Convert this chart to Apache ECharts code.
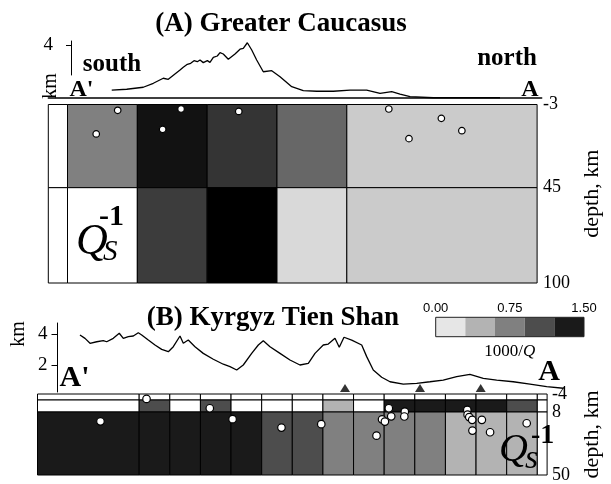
<!DOCTYPE html>
<html><head><meta charset="utf-8">
<script src="https://cdn.jsdelivr.net/npm/echarts@6/dist/echarts.min.js"></script>
<style>html,body{margin:0;padding:0;background:#fff}#c{width:611px;height:484px}</style>
</head><body><div id="c"></div>
<script>
// ---------- Panel A: Greater Caucasus ----------
const aColEdges = [0, 22, 102, 182, 262, 342, 560];          // distance, km
const aDepthEdges = [-3, 45, 100];                           // depth, km
const aQ = [                                                 // relative Q^-1 per cell (null = no data)
  [null, 1.0, 1.86, 1.59, 1.19, 0.41],
  [null, 0.0, 1.53, 2.0, 0.30, 0.41]
];
const aDepthTicks = [-3, 45, 100];
const aDistTicks = [80, 180, 280, 380, 480];
const aTopoDist = [72.0, 89.0, 107.8, 119.2, 130.5, 136.2, 149.5, 153.2, 157.8, 161.6, 165.4, 169.1, 172.2, 175.9, 180.5, 183.5, 187.3, 191.8, 194.9, 198.6, 204.3, 211.9, 217.6, 221.3, 225.9, 230.9, 236.5, 244.0, 253.6, 263.0, 276.3, 289.4, 304.7, 323.5, 342.5, 361.4, 376.5, 389.8, 399.2, 410.6, 437.0, 474.9, 512.7];
const aTopoElev = [0.60, 0.66, 0.81, 1.11, 1.49, 1.41, 2.11, 2.32, 2.54, 2.62, 2.82, 2.74, 2.87, 2.67, 2.82, 2.69, 3.07, 3.17, 3.42, 3.32, 2.92, 3.32, 3.68, 3.75, 4.17, 3.62, 2.87, 1.98, 2.06, 1.61, 0.85, 0.55, 0.51, 0.51, 0.60, 0.60, 0.35, 0.48, 0.30, 0.10, 0.02, 0.02, 0.02];
const aQuakeDist = [79.5, 54.9, 152.1, 131.0, 218.2, 390.1, 450.3, 473.8, 413.2];
const aQuakeDepth = [0.35, 14.0, -0.4, 11.3, 1.0, -0.4, 5.0, 12.1, 16.7];
const aElevTicks = [4];

// ---------- Panel B: Kyrgyz Tien Shan ----------
const bColEdges = [0, 166, 216, 266, 316, 366, 416, 466, 516, 566, 616, 666, 716, 766, 816, 832];
const bDepthEdges = [-4, 0, 8, 50];
const bQ = [                                                 // 1000/Q per cell (null = no data)
  [null, null, null, null, null, null, null, null, null, null, null, null, null, null, null],
  [null, 1.05, null, 1.05, null, null, null, 0.45, null, 1.35, 1.35, 1.35, 1.35, 1.05, null],
  [1.35, 1.35, 1.35, 1.35, 1.35, 1.05, 1.05, 0.75, 0.75, 0.75, 0.75, 0.45, 0.45, 0.45, null]
];
const bDepthTicks = [-4, 8, 50];
const bTopoDist = [67.2, 75.2, 83.1, 93.7, 104.1, 109.5, 119.9, 129.4, 135.8, 143.7, 151.6, 159.5, 164.9, 175.3, 185.9, 196.5, 207.0, 214.9, 225.5, 230.7, 238.6, 249.2, 262.3, 278.2, 294.0, 304.6, 315.2, 325.6, 338.9, 349.4, 357.3, 367.9, 383.7, 399.5, 415.3, 428.5, 439.1, 452.2, 460.1, 470.7, 477.5, 485.0, 497.2, 513.0, 520.9, 531.3, 544.6, 557.8, 578.8, 600.0, 621.0, 642.0, 663.3, 684.3, 705.4, 726.6, 752.8, 779.3, 805.7, 832.0];
const bTopoElev = [3.94, 3.72, 3.40, 3.50, 3.57, 3.50, 3.72, 4.05, 3.72, 3.83, 3.87, 4.08, 3.94, 3.61, 3.29, 3.01, 2.86, 3.18, 3.87, 3.40, 3.61, 3.18, 2.75, 2.37, 2.05, 1.89, 1.68, 2.00, 2.75, 3.29, 3.57, 3.18, 2.75, 2.32, 2.00, 2.11, 2.75, 3.29, 3.35, 3.72, 3.14, 3.79, 3.61, 3.29, 2.54, 1.68, 1.21, 0.92, 0.77, 0.82, 0.92, 1.03, 1.25, 1.40, 1.14, 1.03, 0.92, 0.77, 0.60, 0.50];
const bStationDist = [486.6, 605.2, 701.3];
const bStationElev = [0.52, 0.52, 0.52];
const bQuakeDist = [178, 102.8, 281.3, 318.5, 398.3, 463.3, 573.6, 599.7, 598.9, 577.5, 562.5, 567.2, 553.5, 701.7, 702.2, 704.9, 709.7, 725.5, 710.1, 738.9, 798.7];
const bQuakeDepth = [-0.7, 14.2, 5.5, 12.8, 18.4, 16.1, 5.5, 7.8, 11.0, 10.9, 12.9, 14.4, 23.8, 6.6, 9.8, 11.4, 13.2, 13.2, 20.4, 21.5, 15.5];
const bElevTicks = [2, 4];

// ---------- Colour scale (1000/Q) ----------
const cbEdges = [0, 0.3, 0.6, 0.9, 1.2, 1.5];
const cbColors = ['#e6e6e6', '#b3b3b3', '#808080', '#4d4d4d', '#1a1a1a'];
const cbTicks = [0, 0.75, 1.5];

// ---------- helpers ----------
const SERIF = '"Liberation Serif", "Times New Roman", serif';
const SANS = '"Liberation Sans", Arial, sans-serif';

function grayA(v) {
  if (v < 0) return '#ffffff';
  const g = Math.max(0, Math.min(255, Math.round(255 * (1 - v / 2))));
  return 'rgb(' + g + ',' + g + ',' + g + ')';
}
function classB(v) {
  if (v < 0) return '#ffffff';
  for (let i = 0; i < cbColors.length; i++) {
    if (v < cbEdges[i + 1]) return cbColors[i];
  }
  return cbColors[cbColors.length - 1];
}
function cells(colEdges, depthEdges, vals) {
  const out = [];
  for (let r = 0; r < vals.length; r++) {
    for (let c = 0; c < vals[r].length; c++) {
      const v = vals[r][c];
      out.push([colEdges[c], colEdges[c + 1], depthEdges[r], depthEdges[r + 1], v == null ? -1 : v]);
    }
  }
  return out;
}
function cellRenderer(colorFn, stroke) {
  return function (params, api) {
    const p0 = api.coord([api.value(0), api.value(2)]);
    const p1 = api.coord([api.value(1), api.value(3)]);
    return {
      type: 'rect',
      shape: { x: p0[0], y: Math.min(p0[1], p1[1]), width: p1[0] - p0[0], height: Math.abs(p1[1] - p0[1]) },
      style: { fill: colorFn(api.value(4)), stroke: stroke ? '#000' : null, lineWidth: 1 }
    };
  };
}
function zip(a, b) { return a.map((v, i) => [v, b[i]]); }

const cbData = cbColors.map((c, i) => [cbEdges[i], cbEdges[i + 1], 0, 1, (cbEdges[i] + cbEdges[i + 1]) / 2]);

function txt(x, y, text, font, align, extra) {
  return Object.assign({
    type: 'text', x: x, y: y, z: 100,
    style: { text: text, font: font, fill: '#000', align: align || 'center', textAlign: align || 'center', verticalAlign: 'middle', textVerticalAlign: 'middle' }
  }, extra || {});
}

const hidden = { show: false };
const noSplit = { show: false };

const option = {
  animation: false,
  backgroundColor: '#fff',
  grid: [
    { left: 48.3, width: 493.4, top: 45, height: 53 },          // 0 topo A
    { left: 48.3, width: 493.4, top: 104.5, height: 178.5 },    // 1 section A
    { left: 71, width: 1, top: 41, height: 34 },                // 2 km axis A
    { left: 37.5, width: 525.8, top: 334, height: 62 },         // 3 topo B
    { left: 37.5, width: 525.8, top: 394, height: 84 },         // 4 section B
    { left: 57.5, width: 1, top: 323, height: 69 },             // 5 km axis B
    { left: 435.7, width: 148.3, top: 317.3, height: 19.4, show: true, borderColor: '#222', borderWidth: 1, z: 10 } // 6 colour bar
  ],
  xAxis: [
    { gridIndex: 0, type: 'value', min: 0, max: 560, axisLine: { show: true, onZero: false, lineStyle: { color: '#000', width: 1.5 } }, axisTick: hidden, axisLabel: hidden, splitLine: noSplit },
    { gridIndex: 1, type: 'value', min: 0, max: 560, position: 'bottom', axisLine: hidden, axisTick: { show: true, inside: true, length: 4, customValues: aDistTicks, lineStyle: { color: '#000' } }, axisLabel: hidden, splitLine: noSplit },
    { gridIndex: 1, type: 'value', min: 0, max: 560, position: 'top', axisLine: hidden, axisTick: { show: true, inside: true, length: 4, customValues: aDistTicks, lineStyle: { color: '#000' } }, axisLabel: hidden, splitLine: noSplit },
    { gridIndex: 2, type: 'value', min: 0, max: 1, show: false },
    { gridIndex: 3, type: 'value', min: 0, max: 832, show: false },
    { gridIndex: 4, type: 'value', min: 0, max: 832, show: false },
    { gridIndex: 5, type: 'value', min: 0, max: 1, show: false },
    { gridIndex: 6, type: 'value', min: 0, max: 1.5, position: 'top', axisLine: hidden, axisTick: hidden, splitLine: noSplit,
      axisLabel: { customValues: cbTicks, formatter: v => Number(v).toFixed(2), margin: 2, fontFamily: SANS, fontSize: 13, color: '#000' } },
    { gridIndex: 6, type: 'value', min: 0, max: 1.5, position: 'bottom', axisLine: hidden, axisTick: hidden, axisLabel: hidden, splitLine: noSplit,
      name: '{a|1000/}{b|Q}', nameLocation: 'middle', nameGap: 6,
      nameTextStyle: { rich: { a: { fontFamily: SERIF, fontSize: 17, color: '#000' }, b: { fontFamily: SERIF, fontStyle: 'italic', fontSize: 17, color: '#000' } } } }
  ],
  yAxis: [
    { gridIndex: 0, type: 'value', min: 0, max: 4, show: false },
    { gridIndex: 1, type: 'value', min: -3, max: 100, inverse: true, position: 'right', axisLine: hidden, axisTick: hidden, splitLine: noSplit,
      axisLabel: { customValues: aDepthTicks, margin: 6, fontFamily: SERIF, fontSize: 18, color: '#000' },
      name: 'depth, km', nameLocation: 'middle', nameRotate: 90, nameGap: 21, nameTextStyle: { fontFamily: SERIF, fontSize: 22, color: '#000' } },
    { gridIndex: 2, type: 'value', min: 1.736, max: 4.302, position: 'left', axisLine: { show: true, onZero: false, lineStyle: { color: '#000' } },
      axisTick: { show: true, length: 5, customValues: aElevTicks, lineStyle: { color: '#000' } }, splitLine: noSplit,
      axisLabel: { customValues: aElevTicks, margin: 18, fontFamily: SERIF, fontSize: 19, color: '#000' } },
    { gridIndex: 3, type: 'value', min: 0, max: 4, show: false },
    { gridIndex: 4, type: 'value', min: -4, max: 50, inverse: true, position: 'right', axisLine: hidden, axisTick: hidden, splitLine: noSplit,
      axisLabel: { customValues: bDepthTicks, margin: 5, fontFamily: SERIF, fontSize: 18, color: '#000' },
      name: 'depth, km', nameLocation: 'middle', nameRotate: 90, nameGap: 22, nameTextStyle: { fontFamily: SERIF, fontSize: 22, color: '#000' } },
    { gridIndex: 5, type: 'value', min: 0.258, max: 4.71, position: 'left', axisLine: { show: true, onZero: false, lineStyle: { color: '#000' } },
      axisTick: { show: true, length: 6, customValues: bElevTicks, lineStyle: { color: '#000' } }, splitLine: noSplit,
      axisLabel: { customValues: bElevTicks, margin: 10, fontFamily: SERIF, fontSize: 19, color: '#000' } },
    { gridIndex: 6, type: 'value', min: 0, max: 1, show: false }
  ],
  series: [
    { type: 'line', xAxisIndex: 0, yAxisIndex: 0, data: zip(aTopoDist, aTopoElev), symbol: 'none', clip: false,
      lineStyle: { color: '#000', width: 1.3 } },
    { type: 'custom', xAxisIndex: 1, yAxisIndex: 1, data: cells(aColEdges, aDepthEdges, aQ), encode: { x: [0, 1], y: [2, 3] },
      renderItem: cellRenderer(grayA, true), z: 2 },
    { type: 'scatter', xAxisIndex: 1, yAxisIndex: 1, data: zip(aQuakeDist, aQuakeDepth), symbol: 'circle', symbolSize: 6.5, z: 5,
      itemStyle: { color: '#fff', borderColor: '#000', borderWidth: 1.2, opacity: 1 } },
    { type: 'line', xAxisIndex: 4, yAxisIndex: 3, data: zip(bTopoDist, bTopoElev), symbol: 'none', clip: false,
      lineStyle: { color: '#000', width: 1.3 } },
    { type: 'scatter', xAxisIndex: 4, yAxisIndex: 3, data: zip(bStationDist, bStationElev), symbol: 'triangle', symbolSize: [10, 8],
      itemStyle: { color: '#000' } },
    { type: 'custom', xAxisIndex: 5, yAxisIndex: 4, data: cells(bColEdges, bDepthEdges, bQ), encode: { x: [0, 1], y: [2, 3] },
      renderItem: cellRenderer(classB, true), z: 2 },
    { type: 'scatter', xAxisIndex: 5, yAxisIndex: 4, data: zip(bQuakeDist, bQuakeDepth), symbol: 'circle', symbolSize: 7.5, z: 5,
      itemStyle: { color: '#fff', borderColor: '#000', borderWidth: 1.2, opacity: 1 } },
    { type: 'custom', xAxisIndex: 7, yAxisIndex: 6, data: cbData, encode: { x: [0, 1], y: [2, 3] },
      renderItem: cellRenderer(classB, false), z: 2 }
  ],
  graphic: [
    txt(281, 24.5, '(A) Greater Caucasus', 'bold 27px ' + SERIF),
    txt(273, 318.5, '(B) Kyrgyz Tien Shan', 'bold 27px ' + SERIF),
    txt(112, 64.5, 'south', 'bold 25px ' + SERIF),
    txt(507, 58.5, 'north', 'bold 25px ' + SERIF),
    txt(81.5, 90, "A'", 'bold 24px ' + SERIF),
    txt(530, 90, 'A', 'bold 24px ' + SERIF),
    txt(74.5, 378.5, "A'", 'bold 30px ' + SERIF),
    txt(549, 372.5, 'A', 'bold 30px ' + SERIF),
    txt(50.5, 86, 'km', '20px ' + SERIF, 'center', { rotation: Math.PI / 2 }),
    txt(18.5, 334, 'km', '20px ' + SERIF, 'center', { rotation: Math.PI / 2 }),
    txt(76, 242, 'Q', 'italic 44px ' + SERIF, 'left'),
    txt(99, 217.5, '-1', 'bold 30px ' + SERIF, 'left'),
    txt(103, 252, 'S', 'italic 29px ' + SERIF, 'left'),
    txt(499, 450, 'Q', 'italic 40px ' + SERIF, 'left'),
    txt(531, 436, '-1', 'bold 28px ' + SERIF, 'left'),
    txt(525, 459, 's', 'italic 34px ' + SERIF, 'left')
  ]
};

const chart = echarts.init(document.getElementById('c'), null, { renderer: 'canvas', width: 611, height: 484 });
chart.setOption(option);
</script>
</body></html>
